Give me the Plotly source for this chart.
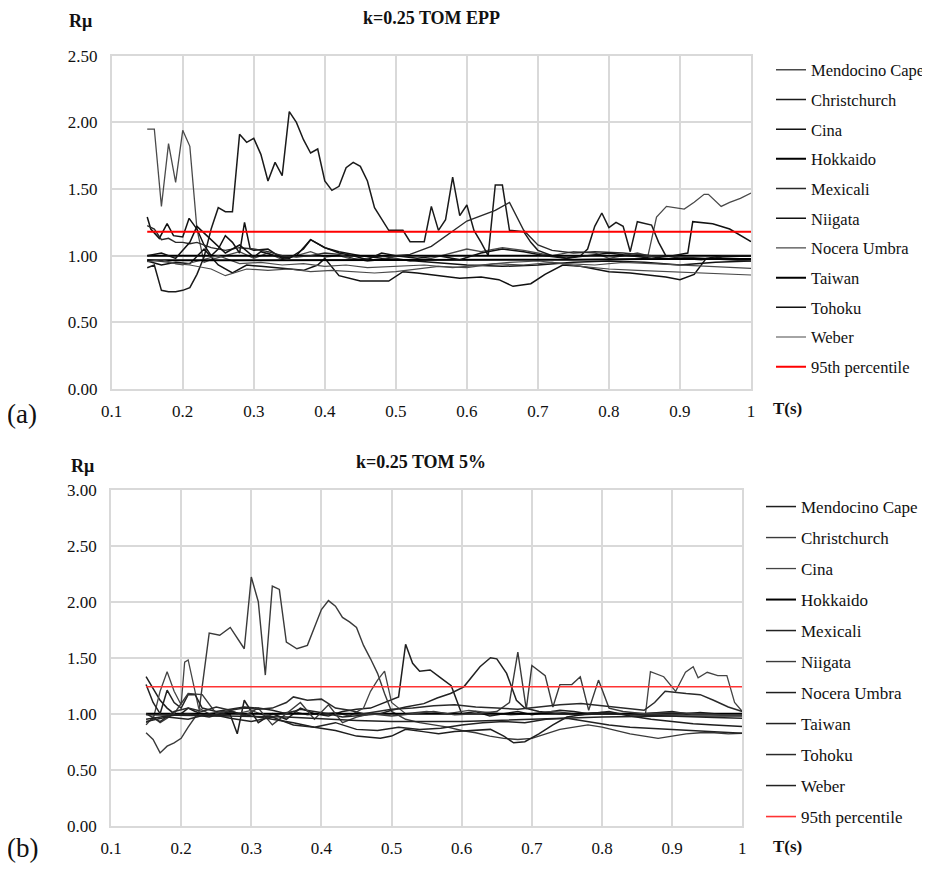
import plotly.graph_objects as go

# ---------------- data ----------------
names = ["Mendocino Cape", "Christchurch", "Cina", "Hokkaido", "Mexicali",
         "Niigata", "Nocera Umbra", "Taiwan", "Tohoku", "Weber"]
pct_name = "95th percentile"

x_tick_vals = [0.1, 0.2, 0.3, 0.4, 0.5, 0.6, 0.7, 0.8, 0.9, 1.0]
x_tick_text = ["0.1", "0.2", "0.3", "0.4", "0.5", "0.6", "0.7", "0.8", "0.9", "1"]

# ---- panel (a): k=0.25 TOM EPP ----
a_mendocino_T = [0.15,0.16,0.17,0.18,0.19,0.20,0.21,0.22,0.23,0.24,0.26,0.28,0.30,0.32,0.34,0.36,0.38,0.40,0.42,0.44,
                 0.46,0.48,0.50,0.52,0.55,0.58,0.60,0.62,0.65,0.68,0.70,0.72,0.75,0.78,0.80,0.82,0.84,0.855,0.867,0.881,
                 0.893,0.906,0.92,0.934,0.94,0.958,0.97,0.985,1.00]
a_mendocino_R = [1.95,1.95,1.37,1.84,1.55,1.94,1.82,1.20,0.95,0.97,1.00,1.03,0.98,1.02,0.97,1.00,1.03,0.99,1.00,0.97,
                 0.98,1.00,0.98,0.96,0.98,1.02,1.05,1.03,1.06,1.04,1.02,1.00,1.03,1.02,0.98,1.00,1.02,1.00,1.29,1.37,
                 1.36,1.35,1.40,1.46,1.46,1.37,1.40,1.43,1.47]
a_christchurch_T = [0.15,0.16,0.17,0.18,0.19,0.20,0.21,0.22,0.23,0.24,0.25,0.26,0.27,0.28,0.29,0.30,0.31,0.32,0.33,0.34,
                    0.35,0.36,0.37,0.38,0.39,0.40,0.41,0.42,0.43,0.44,0.45,0.46,0.47,0.48,0.49,0.51,0.52,0.54,0.55,0.56,
                    0.57,0.58,0.59,0.60,0.61,0.62,0.63,0.64,0.65,0.66,0.68,0.69,0.70,0.72,0.74,0.76,0.77,0.78,0.79,0.80,
                    0.81,0.82,0.83,0.84,0.86,0.87,0.88,0.90,0.93,0.96,1.00]
a_christchurch_R = [0.91,0.93,0.74,0.73,0.73,0.74,0.76,0.86,0.99,1.20,1.36,1.33,1.33,1.91,1.85,1.88,1.76,1.56,1.70,1.60,
                    2.08,2.00,1.87,1.77,1.80,1.56,1.49,1.52,1.66,1.70,1.67,1.56,1.36,1.28,1.19,1.19,1.105,1.105,1.37,1.19,
                    1.27,1.59,1.30,1.38,1.19,1.10,1.00,1.53,1.53,1.19,1.18,1.10,1.04,1.00,0.98,1.00,1.05,1.22,1.32,1.21,
                    1.25,1.22,1.03,1.255,1.23,1.10,1.00,0.98,0.97,0.99,1.00]
a_cina_T = [0.15,0.155,0.167,0.178,0.187,0.20,0.209,0.22,0.23,0.24,0.25,0.26,0.27,0.28,0.287,0.295,0.30,0.32,0.34,0.36,
            0.38,0.40,0.42,0.45,0.48,0.50,0.55,0.60,0.65,0.70,0.75,0.80,0.85,0.90,0.95,1.00]
a_cina_R = [1.29,1.20,1.13,1.24,1.15,1.14,1.28,1.20,1.08,1.00,1.05,1.15,1.10,1.02,1.25,1.05,1.04,1.05,0.98,1.00,
            1.12,1.06,1.03,1.00,0.98,0.97,0.95,0.93,0.92,0.93,0.95,0.96,0.95,0.93,0.95,0.96]
a_hokkaido_T = [0.15,0.25,0.35,0.45,0.55,0.65,0.75,0.85,0.95,1.00]
a_hokkaido_R = [1.00,1.00,1.00,1.00,1.00,1.00,1.00,1.00,1.00,1.00]
a_mexicali_T = [0.15,0.16,0.17,0.18,0.19,0.20,0.21,0.22,0.24,0.26,0.28,0.30,0.32,0.34,0.36,0.38,0.40,0.42,0.44,0.46,
                0.48,0.50,0.52,0.55,0.60,0.64,0.66,0.68,0.70,0.72,0.75,0.78,0.82,0.86,0.90,0.94,0.97,1.00]
a_mexicali_R = [1.225,1.20,1.12,1.13,1.10,1.10,1.09,1.10,1.06,1.04,1.06,1.05,1.03,1.00,0.99,1.00,1.02,1.01,0.98,0.96,
                0.97,1.00,1.01,1.07,1.26,1.34,1.40,1.19,1.08,1.04,1.02,1.03,1.02,1.00,0.99,0.98,0.97,0.96]
a_niigata_T = [0.15,0.17,0.19,0.21,0.23,0.25,0.27,0.29,0.31,0.33,0.35,0.37,0.39,0.40,0.42,0.45,0.49,0.51,0.53,0.56,
               0.59,0.62,0.645,0.665,0.69,0.71,0.735,0.76,0.78,0.80,0.83,0.85,0.88,0.90,0.92,0.937,0.96,1.00]
a_niigata_R = [0.96,0.93,0.95,0.94,1.05,0.93,0.87,0.93,0.92,0.91,0.90,0.89,0.93,0.98,0.85,0.81,0.81,0.88,0.87,0.85,
               0.83,0.84,0.82,0.77,0.79,0.86,0.93,0.92,0.90,0.88,0.87,0.86,0.84,0.82,0.86,0.98,1.00,1.00]
a_nocera_T = [0.15,0.18,0.20,0.22,0.25,0.28,0.31,0.34,0.37,0.40,0.43,0.46,0.50,0.54,0.58,0.62,0.66,0.70,0.74,0.78,
              0.82,0.86,0.90,0.94,0.97,1.00]
a_nocera_R = [0.97,0.95,0.93,0.96,1.00,0.94,0.95,0.93,0.94,0.92,0.93,0.91,0.92,0.93,0.91,0.93,0.95,0.96,0.94,0.93,
              0.95,0.94,0.93,0.92,0.91,0.905]
a_taiwan_T = [0.15,0.25,0.35,0.45,0.55,0.65,0.75,0.85,0.95,1.00]
a_taiwan_R = [0.965,0.965,0.97,0.965,0.965,0.97,0.97,0.975,0.975,0.975]
a_tohoku_T = [0.15,0.17,0.19,0.21,0.22,0.24,0.26,0.28,0.30,0.31,0.33,0.35,0.37,0.38,0.40,0.42,0.44,0.46,0.48,0.50,
              0.53,0.56,0.59,0.62,0.65,0.68,0.71,0.74,0.77,0.80,0.83,0.86,0.89,0.911,0.918,0.946,0.97,1.00]
a_tohoku_R = [1.00,1.02,0.98,1.10,1.22,1.12,1.02,1.08,0.99,1.03,1.00,0.98,1.05,1.12,1.06,1.02,1.00,0.97,1.02,1.00,
              0.98,1.00,0.97,1.02,1.05,1.03,1.00,0.98,1.00,1.02,1.00,0.98,1.00,1.02,1.255,1.24,1.20,1.105]
a_weber_T = [0.15,0.17,0.19,0.21,0.24,0.26,0.29,0.32,0.35,0.38,0.41,0.44,0.47,0.50,0.53,0.56,0.60,0.64,0.68,0.72,
             0.76,0.80,0.84,0.88,0.92,0.96,1.00]
a_weber_R = [0.955,0.97,0.94,0.93,0.90,0.85,0.90,0.89,0.90,0.88,0.89,0.88,0.87,0.88,0.90,0.92,0.91,0.94,0.93,0.95,
             0.92,0.90,0.89,0.88,0.87,0.86,0.855]
a_pct_T = [0.15, 1.00]
a_pct_R = [1.18, 1.18]

# ---- panel (b): k=0.25 TOM 5% ----
b_mendocino_T = [0.15,0.16,0.17,0.18,0.19,0.20,0.21,0.22,0.23,0.25,0.27,0.28,0.29,0.31,0.33,0.35,0.37,0.39,0.41,0.43,
                 0.45,0.47,0.49,0.50,0.51,0.52,0.53,0.54,0.555,0.57,0.585,0.60,0.62,0.64,0.66,0.68,0.70,0.72,0.74,0.76,
                 0.78,0.80,0.82,0.84,0.86,0.88,0.90,0.92,0.94,0.96,0.98,1.00]
b_mendocino_R = [1.33,1.22,1.12,1.05,1.00,1.00,1.05,1.02,1.00,0.98,0.99,0.82,1.12,0.92,1.00,0.95,1.05,1.00,0.98,1.02,
                 1.04,1.05,1.10,1.12,1.15,1.62,1.45,1.38,1.39,1.32,1.25,1.00,1.02,0.98,1.00,1.02,0.99,1.01,1.03,1.02,
                 1.00,1.01,1.00,0.99,1.00,1.01,1.02,1.00,1.01,1.00,1.00,1.00]
b_christchurch_T = [0.15,0.16,0.17,0.18,0.19,0.20,0.21,0.22,0.225,0.24,0.255,0.27,0.29,0.30,0.31,0.32,0.33,0.34,0.35,0.365,
                    0.38,0.39,0.40,0.41,0.42,0.43,0.44,0.45,0.46,0.47,0.48,0.49,0.50,0.52,0.54,0.56,0.58,0.60,0.62,0.64,
                    0.66,0.68,0.70,0.72,0.74,0.76,0.78,0.80,0.82,0.84,0.86,0.88,0.90,0.92,0.94,0.96,0.98,1.00]
b_christchurch_R = [0.83,0.77,0.65,0.71,0.74,0.78,0.88,0.97,1.00,1.72,1.70,1.77,1.58,2.22,2.00,1.345,2.14,2.11,1.64,1.58,
                    1.61,1.77,1.93,2.01,1.96,1.86,1.82,1.77,1.61,1.49,1.36,1.18,1.02,0.95,0.92,0.90,0.88,0.85,0.83,0.80,
                    0.78,0.77,0.78,0.82,0.86,0.88,0.90,0.88,0.85,0.82,0.80,0.78,0.80,0.82,0.83,0.83,0.82,0.825]
b_cina_T = [0.15,0.16,0.17,0.18,0.19,0.20,0.205,0.21,0.225,0.24,0.26,0.28,0.30,0.32,0.34,0.36,0.38,0.40,0.42,0.44,
            0.46,0.47,0.48,0.49,0.50,0.52,0.55,0.58,0.61,0.64,0.67,0.70,0.73,0.76,0.79,0.82,0.85,0.862,0.869,0.888,
            0.905,0.919,0.93,0.937,0.95,0.965,0.978,0.989,1.00]
b_cina_R = [0.92,0.95,1.20,1.375,1.20,1.08,1.46,1.48,1.05,1.00,1.02,1.00,1.03,0.98,1.00,1.02,0.99,1.00,1.01,0.98,
            1.05,1.20,1.30,1.38,1.10,1.00,1.02,1.00,1.03,1.01,0.99,1.00,1.02,1.00,1.01,1.00,0.99,1.00,1.375,1.33,
            1.20,1.37,1.42,1.32,1.37,1.34,1.34,1.10,1.02]
b_hokkaido_T = [0.15,0.25,0.35,0.45,0.55,0.65,0.75,0.85,0.95,1.00]
b_hokkaido_R = [1.00,1.00,1.00,1.00,1.00,1.00,1.00,1.00,1.00,1.00]
b_mexicali_T = [0.15,0.16,0.17,0.18,0.19,0.20,0.21,0.22,0.23,0.25,0.27,0.29,0.31,0.33,0.35,0.37,0.39,0.41,0.43,0.45,
                0.47,0.484,0.50,0.52,0.546,0.565,0.584,0.603,0.626,0.641,0.65,0.664,0.678,0.69,0.71,0.74,0.77,0.80,0.84,0.88,
                0.92,0.96,1.00]
b_mexicali_R = [1.26,1.10,1.00,1.21,1.10,1.05,1.17,1.17,1.05,1.02,1.04,1.06,1.05,1.03,1.00,1.04,1.02,1.00,0.97,0.98,
                0.99,1.00,1.03,1.06,1.09,1.14,1.18,1.24,1.42,1.50,1.49,1.36,1.12,1.05,1.02,1.00,0.99,1.00,0.99,0.98,
                0.97,0.965,0.96]
b_niigata_T = [0.15,0.16,0.17,0.19,0.21,0.23,0.25,0.27,0.29,0.31,0.33,0.35,0.37,0.39,0.41,0.43,0.45,0.47,0.50,0.53,
               0.56,0.59,0.62,0.65,0.668,0.68,0.692,0.70,0.719,0.73,0.74,0.757,0.769,0.781,0.795,0.81,0.83,0.86,0.90,0.94,
               0.97,1.00]
b_niigata_R = [0.90,0.97,0.92,1.00,1.18,1.17,1.00,1.03,0.98,1.05,0.90,1.00,1.10,0.95,1.08,0.92,0.97,1.00,0.98,1.00,
               1.02,0.99,1.00,1.02,1.10,1.55,1.04,1.43,1.34,1.06,1.26,1.26,1.33,1.03,1.30,1.05,1.02,1.00,1.01,1.00,
               0.99,0.99]
b_nocera_T = [0.15,0.18,0.21,0.24,0.27,0.30,0.33,0.36,0.39,0.42,0.45,0.484,0.50,0.52,0.545,0.567,0.59,0.615,0.641,0.66,
              0.674,0.69,0.71,0.73,0.75,0.78,0.81,0.84,0.87,0.90,0.93,0.96,1.00]
b_nocera_R = [0.95,0.98,1.00,0.97,1.02,0.98,0.95,0.92,0.88,0.85,0.80,0.78,0.80,0.86,0.84,0.82,0.84,0.85,0.86,0.80,
              0.74,0.75,0.82,0.90,0.97,1.00,1.02,0.98,0.95,0.93,0.91,0.90,0.885]
b_taiwan_T = [0.15,0.25,0.35,0.45,0.50,0.60,0.70,0.80,0.90,1.00]
b_taiwan_R = [0.99,0.98,0.97,0.94,0.93,0.93,0.95,0.97,0.98,0.98]
b_tohoku_T = [0.15,0.17,0.19,0.21,0.23,0.25,0.27,0.29,0.31,0.33,0.35,0.36,0.38,0.40,0.42,0.44,0.46,0.48,0.50,0.53,
              0.56,0.59,0.62,0.65,0.68,0.71,0.74,0.77,0.80,0.83,0.86,0.875,0.89,0.92,0.94,0.959,0.98,1.00]
b_tohoku_R = [1.00,0.93,1.02,1.05,1.02,1.06,1.03,1.05,1.04,1.05,1.10,1.15,1.12,1.13,1.05,1.03,1.00,1.02,1.04,1.05,
              1.07,1.08,1.06,1.05,1.04,1.06,1.08,1.09,1.07,1.05,1.03,1.10,1.20,1.18,1.17,1.12,1.06,1.02]
b_weber_T = [0.15,0.18,0.21,0.24,0.27,0.30,0.33,0.36,0.39,0.42,0.45,0.48,0.51,0.54,0.57,0.60,0.63,0.66,0.69,0.72,
             0.75,0.78,0.81,0.84,0.87,0.90,0.93,0.96,1.00]
b_weber_R = [0.93,0.97,0.95,1.00,0.96,0.93,0.97,0.90,0.88,0.92,0.86,0.85,0.88,0.86,0.87,0.90,0.92,0.93,0.92,0.95,
             0.96,0.93,0.90,0.88,0.87,0.86,0.85,0.84,0.825]
b_pct_T = [0.15, 1.00]
b_pct_R = [1.24, 1.24]

panel_a = [(a_mendocino_T, a_mendocino_R), (a_christchurch_T, a_christchurch_R), (a_cina_T, a_cina_R),
           (a_hokkaido_T, a_hokkaido_R), (a_mexicali_T, a_mexicali_R), (a_niigata_T, a_niigata_R),
           (a_nocera_T, a_nocera_R), (a_taiwan_T, a_taiwan_R), (a_tohoku_T, a_tohoku_R), (a_weber_T, a_weber_R)]
panel_b = [(b_mendocino_T, b_mendocino_R), (b_christchurch_T, b_christchurch_R), (b_cina_T, b_cina_R),
           (b_hokkaido_T, b_hokkaido_R), (b_mexicali_T, b_mexicali_R), (b_niigata_T, b_niigata_R),
           (b_nocera_T, b_nocera_R), (b_taiwan_T, b_taiwan_R), (b_tohoku_T, b_tohoku_R), (b_weber_T, b_weber_R)]
for t, r in panel_a + panel_b:
    assert len(t) == len(r), (len(t), len(r))

# ---------------- styles ----------------
W, H = 930, 869
OFF = 8  # page body margin in the browser
FONT = "Times New Roman, Liberation Serif, serif"
GRID = "#d9d9d9"
a_colors = ["#4a4a4a", "#1a1a1a", "#111111", "#000000", "#2a2a2a",
            "#111111", "#4a4a4a", "#000000", "#111111", "#4a4a4a"]
a_widths = [1.3, 1.5, 1.5, 2.0, 1.4, 1.5, 1.2, 2.0, 1.5, 1.2]
b_colors = ["#1e1e1e", "#3a3a3a", "#444444", "#000000", "#222222",
            "#3a3a3a", "#1e1e1e", "#222222", "#2a2a2a", "#222222"]
b_widths = [1.5, 1.4, 1.3, 2.0, 1.5, 1.4, 1.5, 1.5, 1.5, 1.5]


def px_x(x):
    return (x - OFF) / W


def px_y(y):
    return 1 - (y - OFF) / H


fig = go.Figure()

for i, (t, r) in enumerate(panel_a):
    fig.add_trace(go.Scatter(x=t, y=r, mode="lines", name=names[i], legendgroup="a%d" % i,
                             line=dict(color=a_colors[i], width=a_widths[i]),
                             xaxis="x", yaxis="y", legend="legend"))
fig.add_trace(go.Scatter(x=a_pct_T, y=a_pct_R, mode="lines", name=pct_name, legendgroup="a_p",
                         line=dict(color="#ff0000", width=2), xaxis="x", yaxis="y", legend="legend"))

for i, (t, r) in enumerate(panel_b):
    fig.add_trace(go.Scatter(x=t, y=r, mode="lines", name=names[i], legendgroup="b%d" % i,
                             line=dict(color=b_colors[i], width=b_widths[i]),
                             xaxis="x2", yaxis="y2", legend="legend2"))
fig.add_trace(go.Scatter(x=b_pct_T, y=b_pct_R, mode="lines", name=pct_name, legendgroup="b_p",
                         line=dict(color="#ff3333", width=1.6), xaxis="x2", yaxis="y2", legend="legend2"))

tickfont = dict(family=FONT, size=17, color="#111111")
common_x = dict(range=[0.1, 1.0], tickvals=x_tick_vals, ticktext=x_tick_text, showgrid=True,
                gridcolor=GRID, gridwidth=1.5, zeroline=False, showline=True, linecolor=GRID,
                linewidth=1.5, mirror=True, ticks="", tickfont=tickfont, ticklabelstandoff=6,
                fixedrange=True)
common_y = dict(showgrid=True, gridcolor=GRID, gridwidth=1.5, zeroline=False, showline=True,
                linecolor=GRID, linewidth=1.5, mirror=True, ticks="", tickfont=tickfont,
                tickformat=".2f", dtick=0.5, ticklabelstandoff=9, fixedrange=True)

legend_common = dict(xanchor="left", yanchor="top", bgcolor="rgba(0,0,0,0)",
                     traceorder="grouped", itemwidth=30)

fig.update_layout(
    width=W, height=H,
    font=dict(family=FONT, color="#111111"),
    margin=dict(l=0, r=0, t=0, b=0, autoexpand=False),
    paper_bgcolor="white", plot_bgcolor="white",
    xaxis=dict(domain=[px_x(111.7), px_x(751)], anchor="y", **common_x),
    yaxis=dict(domain=[px_y(389), px_y(55.7)], anchor="x", range=[0, 2.5], **common_y),
    xaxis2=dict(domain=[px_x(111), px_x(742.3)], anchor="y2", **common_x),
    yaxis2=dict(domain=[px_y(825.7), px_y(489.7)], anchor="x2", range=[0, 3.0], **common_y),
    legend=dict(x=px_x(771), y=px_y(52.5), tracegroupgap=5.25,
                font=dict(family=FONT, size=16.5, color="#111111"), **legend_common),
    legend2=dict(x=px_x(761), y=px_y(489), tracegroupgap=5.9,
                 font=dict(family=FONT, size=17, color="#111111"), **legend_common),
    showlegend=True,
)

ann_bold = dict(family=FONT, size=18, color="#111111")
annotations = [
    dict(text="<b>k=0.25 TOM EPP</b>", x=px_x(431), y=px_y(18), font=ann_bold),
    dict(text="<b>Rμ</b>", x=px_x(80), y=px_y(21), font=ann_bold),
    dict(text="<b>T(s)</b>", x=px_x(787), y=px_y(408), font=dict(family=FONT, size=17, color="#111111")),
    dict(text="(a)", x=px_x(22), y=px_y(414), font=dict(family=FONT, size=27, color="#111111")),
    dict(text="<b>k=0.25 TOM 5%</b>", x=px_x(421), y=px_y(462), font=ann_bold),
    dict(text="<b>Rμ</b>", x=px_x(82), y=px_y(466), font=ann_bold),
    dict(text="<b>T(s)</b>", x=px_x(787), y=px_y(846), font=dict(family=FONT, size=17, color="#111111")),
    dict(text="(b)", x=px_x(22), y=px_y(848), font=dict(family=FONT, size=27, color="#111111")),
]
for a in annotations:
    fig.add_annotation(xref="paper", yref="paper", xanchor="center", yanchor="middle",
                       showarrow=False, **a)

fig.write_html("out.html")
